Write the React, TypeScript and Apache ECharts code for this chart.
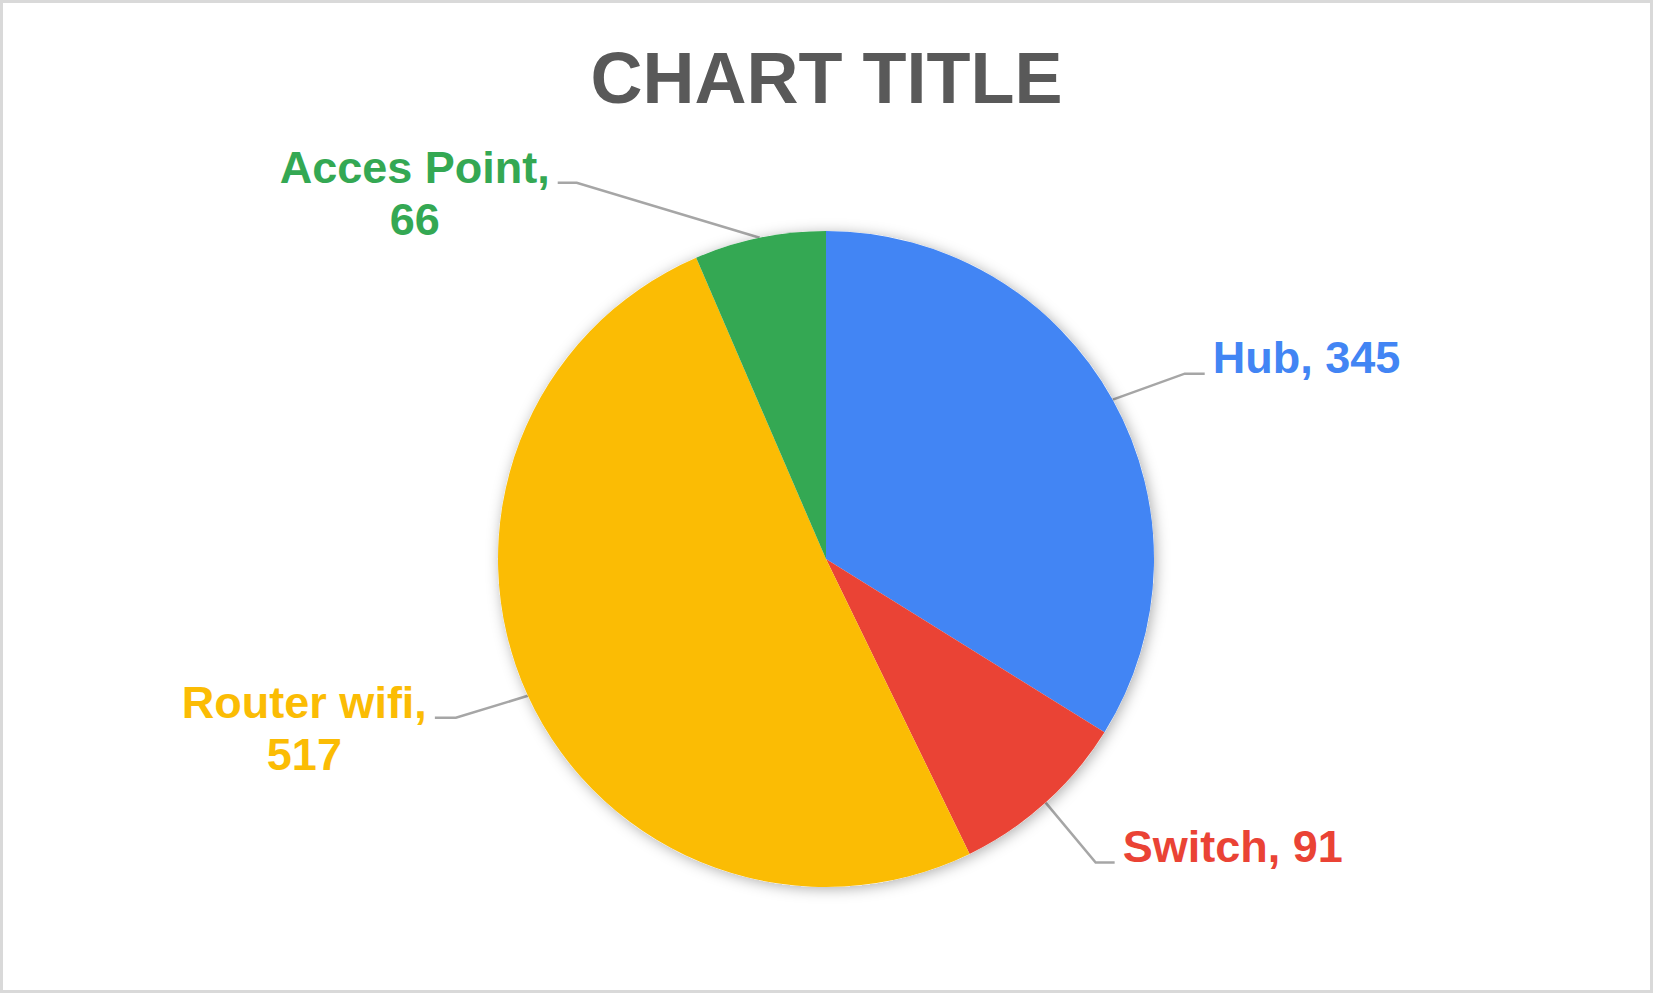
import React, { useEffect, useRef } from 'react';
import * as echarts from 'echarts';

const categories = ['Hub', 'Switch', 'Router wifi', 'Acces Point'];
const values = [345, 91, 517, 66];
const palette = ['#4285F4', '#EA4335', '#FBBC04', '#34A853'];
const titleText = 'CHART TITLE';

// leader-line layout (Excel style): elbow offset from slice edge, horizontal run, label vertical offset
const leaderElbow = [[72, -26], [50, 60], [-72, 22], [-183, -55]];
const leaderRun = [20, 19, -21, -19];
const labelTwoLines = [false, false, true, true];
const labelDy = [-16, -16, 11, 11];
const labelGap = 8;

export default function App() {
  const ref = useRef<HTMLDivElement>(null);
  useEffect(() => {
    const chart = echarts.init(ref.current!, null, { renderer: 'svg' });
    const font = "'Liberation Sans', Arial, Helvetica, sans-serif";
    const center = [826, 559];
    const radius = 328;
    const total = values.reduce((a, b) => a + b, 0);
    chart.setOption({
      animation: false,
      backgroundColor: '#ffffff',
      color: palette,
      title: {
        text: titleText,
        left: 'center',
        top: 42,
        padding: 0,
        textStyle: { fontSize: 72, fontWeight: 'bold', color: '#595959', fontFamily: font },
      },
      graphic: [
        {
          type: 'rect',
          silent: true,
          z: 100,
          shape: { x: 1.5, y: 1.5, width: 1650, height: 990 },
          style: { fill: 'none', stroke: '#d9d9d9', lineWidth: 3 },
        },
      ],
      series: [
        {
          type: 'pie',
          silent: true,
          center,
          radius,
          data: [{ name: '', value: 1 }],
          label: { show: false },
          labelLine: { show: false },
          itemStyle: { color: '#ffffff', shadowBlur: 14, shadowColor: 'rgba(0,0,0,0.32)', shadowOffsetX: 2, shadowOffsetY: 2 },
        },
        {
          type: 'pie',
          center,
          radius,
          startAngle: 90,
          clockwise: true,
          avoidLabelOverlap: false,
          data: categories.map((n, i) => ({ name: n, value: values[i] })),
          itemStyle: { borderWidth: 0 },
          label: {
            show: true,
            position: 'outside',
            color: 'inherit',
            fontFamily: font,
            fontSize: 45,
            fontWeight: 'bold',
            lineHeight: 52,
            formatter: (p: any) =>
              labelTwoLines[p.dataIndex] ? `${p.name},\n${p.value}` : `${p.name}, ${p.value}`,
          },
          labelLine: { show: true, lineStyle: { color: '#a6a6a6', width: 2.5 } },
          labelLayout: (p: any) => {
            const i = p.dataIndex;
            let start: number[];
            if (p.labelLinePoints && p.labelLinePoints[0]) {
              start = [p.labelLinePoints[0][0], p.labelLinePoints[0][1]];
            } else {
              let cum = 0;
              for (let k = 0; k < i; k++) cum += values[k];
              const a = ((cum + values[i] / 2) / total) * Math.PI * 2;
              start = [center[0] + radius * Math.sin(a), center[1] - radius * Math.cos(a)];
            }
            const elbow = [start[0] + leaderElbow[i][0], start[1] + leaderElbow[i][1]];
            const end = [elbow[0] + leaderRun[i], elbow[1]];
            const right = leaderRun[i] > 0;
            const w = p.labelRect ? p.labelRect.width : 0;
            let x: number;
            let align: string;
            if (right) {
              x = end[0] + labelGap;
              align = 'left';
            } else if (labelTwoLines[i]) {
              x = end[0] - labelGap - w / 2;
              align = 'center';
            } else {
              x = end[0] - labelGap;
              align = 'right';
            }
            return {
              x,
              y: end[1] + labelDy[i],
              align,
              verticalAlign: 'middle',
              labelLinePoints: [start, elbow, end],
            };
          },
        },
      ],
    });
    return () => chart.dispose();
  }, []);
  return (
    <div
      ref={ref}
      style={{ position: 'fixed', left: 0, top: 0, width: '1653px', height: '993px', background: '#fff' }}
    />
  );
}
